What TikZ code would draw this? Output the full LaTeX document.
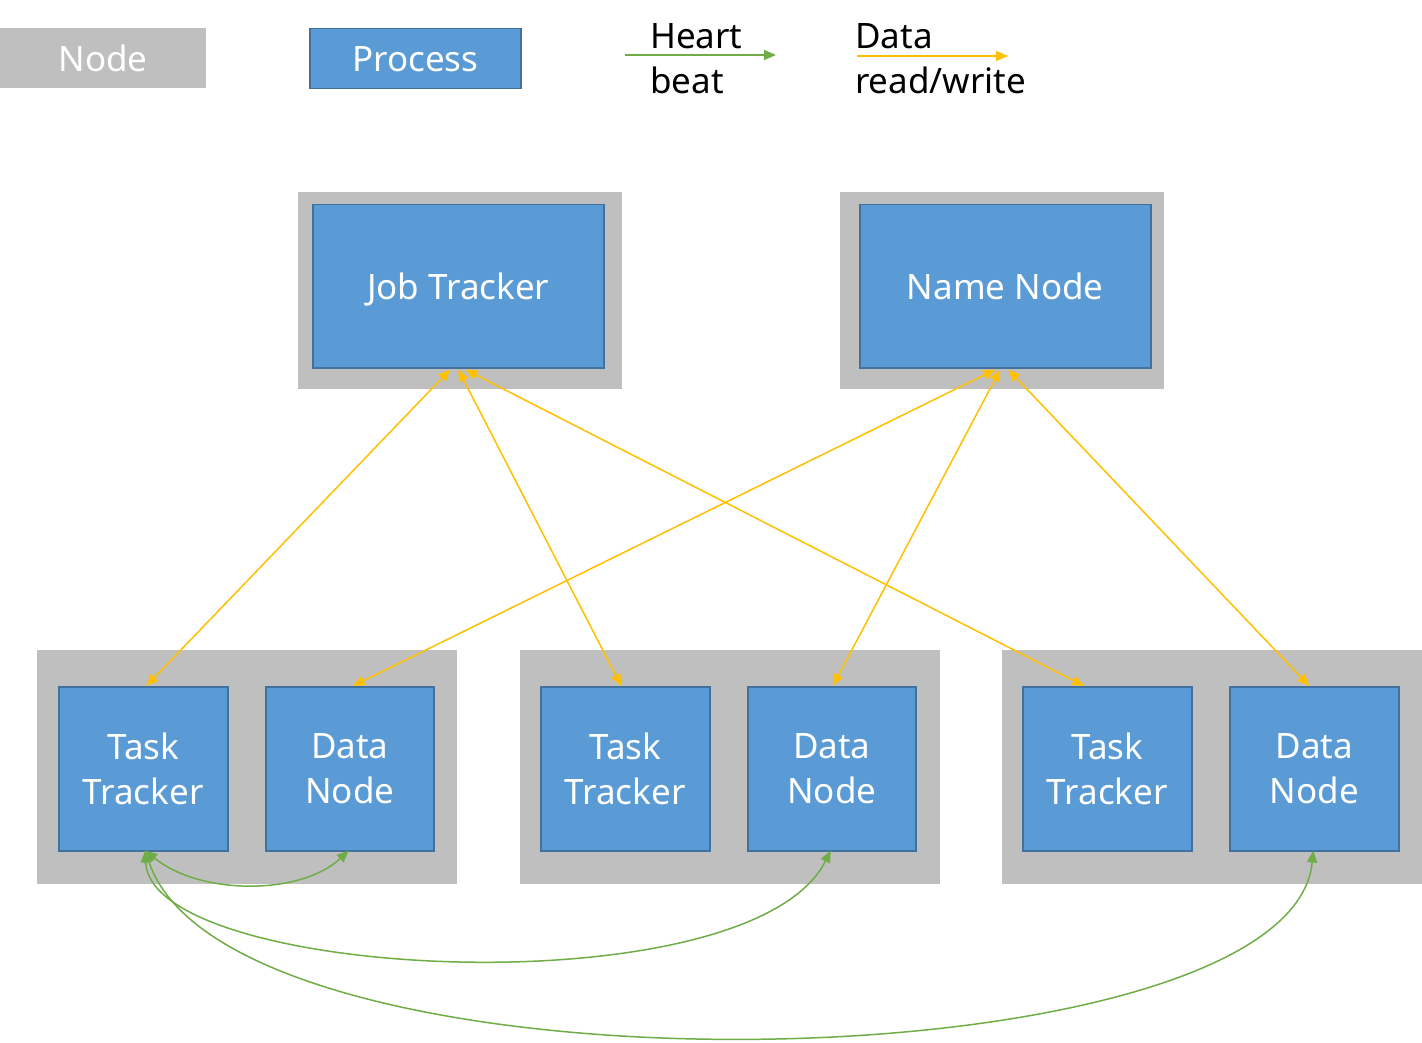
\documentclass[tikz,border=0pt]{standalone}
\usepackage{fontspec}
\setmainfont{Noto Sans}
\usetikzlibrary{arrows.meta}
\definecolor{pblue}{HTML}{5B9BD5}
\definecolor{pborder}{HTML}{41719C}
\definecolor{ngray}{HTML}{BFBFBF}
\definecolor{hgreen}{HTML}{70AD47}
\definecolor{dyellow}{HTML}{FFC000}
\tikzset{
  nodebox/.style={fill=ngray, draw=none, inner sep=0pt, anchor=north west},
  procbox/.style={fill=pblue, draw=pborder, line width=1.5pt, inner sep=0pt, anchor=north west,
    text=white, align=center, font=\fontsize{35}{45}\selectfont},
  legtext/.style={inner sep=0pt, anchor=west, text=black, font=\fontsize{35}{45}\selectfont},
  rw/.style={draw=dyellow, line width=1.5pt, {Triangle[length=12pt,width=10pt]}-{Triangle[length=12pt,width=10pt]}},
  hb/.style={draw=hgreen, line width=1.5pt, {Triangle[length=12pt,width=10pt]}-{Triangle[length=12pt,width=10pt]}},
  fixline/.style={text height=30pt, text depth=4pt},
}
\begin{document}
\begin{tikzpicture}[x=1pt,y=-1pt]
\useasboundingbox[fill=white] (0,0) rectangle (1422,1043);
% legend
\node[nodebox, fixline, minimum width=206pt, minimum height=60pt, text=white, font=\fontsize{35}{45}\selectfont] (lnode) at (0,28) {Node};
\node[procbox, fixline, minimum width=211pt, minimum height=60pt] (lproc) at (309,28) {Process};
\node[legtext] (lheart) at (650,36) {Heart};
\node[legtext] (lbeat) at (650,80) {beat};
\coordinate (hbs) at (625,55);
\coordinate (hbe) at (776,55);
\draw[draw=hgreen, line width=1.5pt, -{Triangle[length=12pt,width=10pt]}] (hbs) -- (hbe);
\node[legtext] (ldata) at (855,36) {Data};
\node[legtext] (lrw) at (855,80) {read/write};
\coordinate (rws) at (857,56);
\coordinate (rwe) at (1008,56);
\draw[draw=dyellow, line width=1.5pt, -{Triangle[length=12pt,width=10pt]}] (rws) -- (rwe);
% top nodes
\node[nodebox, minimum width=324pt, minimum height=197pt] (gjt) at (298,192) {};
\node[procbox, fixline, minimum width=291pt, minimum height=163pt] (jt) at (312,204) {Job Tracker};
\node[nodebox, minimum width=324pt, minimum height=197pt] (gnn) at (840,192) {};
\node[procbox, fixline, minimum width=291pt, minimum height=163pt] (nn) at (859,204) {Name Node};
% bottom groups
\node[nodebox, minimum width=420pt, minimum height=234pt] (g1) at (37,650) {};
\node[procbox, minimum width=169pt, minimum height=164pt] (tt1) at (58,686) {Task\\Tracker};
\node[procbox, minimum width=168pt, minimum height=164pt] (dn1) at (265,686) {Data\\Node};
\node[nodebox, minimum width=420pt, minimum height=234pt] (g2) at (520,650) {};
\node[procbox, minimum width=169pt, minimum height=164pt] (tt2) at (540,686) {Task\\Tracker};
\node[procbox, minimum width=168pt, minimum height=164pt] (dn2) at (747,686) {Data\\Node};
\node[nodebox, minimum width=420pt, minimum height=234pt] (g3) at (1002,650) {};
\node[procbox, minimum width=169pt, minimum height=164pt] (tt3) at (1022,686) {Task\\Tracker};
\node[procbox, minimum width=169pt, minimum height=164pt] (dn3) at (1229,686) {Data\\Node};
% data read/write
\draw[rw] ([xshift=-8pt,yshift=-1pt]jt.south) -- ([xshift=3pt]tt1.north);
\draw[rw] ([xshift=0pt,yshift=-1pt]jt.south) -- ([xshift=-4pt]tt2.north);
\draw[rw] ([xshift=7pt,yshift=-1pt]jt.south) -- ([xshift=-23pt]tt3.north);
\draw[rw] ([xshift=-10pt,yshift=-1pt]nn.south) -- ([xshift=3pt]dn1.north);
\draw[rw] ([xshift=-5pt,yshift=-1pt]nn.south) -- ([xshift=1pt]dn2.north);
\draw[rw] ([xshift=3pt,yshift=-1pt]nn.south) -- ([xshift=-5pt]dn3.north);
% heartbeat
\draw[hb] ([xshift=2pt,yshift=1pt]tt1.south) .. controls +(55,45) and +(-48,45) .. ([xshift=-1pt,yshift=1pt]dn1.south);
\draw[hb] ([xshift=2pt,yshift=1pt]tt1.south) .. controls +(5,130) and +(-80,160) .. ([xshift=-1pt,yshift=1pt]dn2.south);
\draw[hb] ([xshift=2pt,yshift=1pt]tt1.south) .. controls +(85,258) and +(-22,238) .. ([xshift=-1pt,yshift=1pt]dn3.south);
\end{tikzpicture}
\end{document}
